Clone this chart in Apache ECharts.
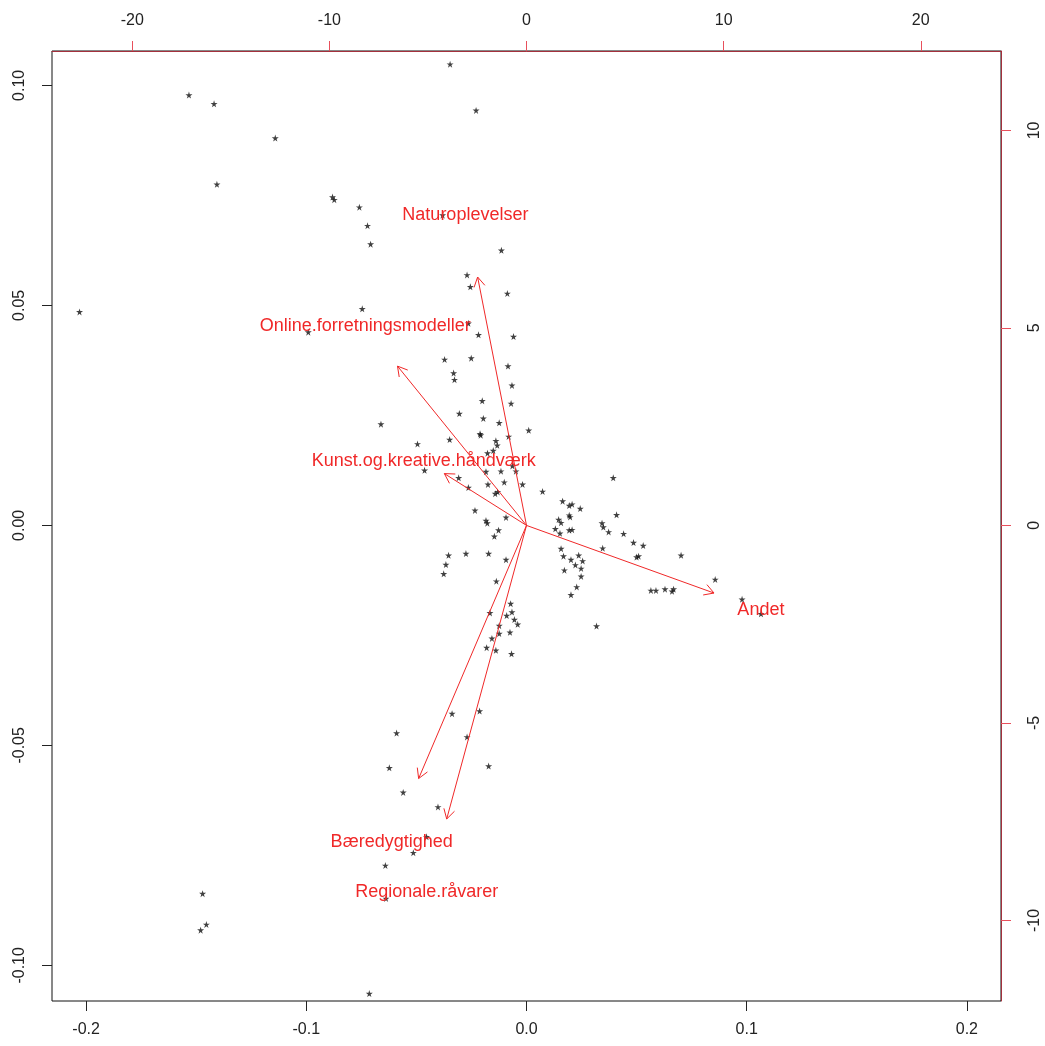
<!DOCTYPE html>
<html>
<head>
<meta charset="utf-8">
<script src="https://cdn.jsdelivr.net/npm/echarts@6/dist/echarts.min.js"></script>
<style>
  html, body { margin: 0; padding: 0; background: #fff; }
  #chart { width: 1045px; height: 1046px; }
</style>
</head>
<body>
<div id="chart"></div>
<script>
// observation scores (bottom / left axes)
var scoreX = [
  -0.1533, -0.1419, -0.1141, -0.1406, -0.0881, -0.0873, -0.0759, -0.0722, -0.0708, -0.0347,
  -0.0229, -0.0114, -0.0381, -0.2030, -0.0991, -0.0746, -0.0270, -0.0255, -0.0087, -0.0264,
  -0.0218, -0.0059, -0.0372, -0.0251, -0.0084, -0.0331, -0.0327, -0.0066, -0.0201, -0.0070,
  -0.0661, -0.0305, -0.0196, -0.0124, 0.0010, -0.0211, -0.0208, -0.0081, -0.0495, -0.0349,
  -0.0139, -0.0133, -0.0177, -0.0151, -0.0064, -0.0184, -0.0116, -0.0048, -0.0463, -0.0308,
  -0.0175, -0.0101, -0.0018, -0.0264, -0.0142, -0.0131, -0.0234, -0.0184, -0.0178, -0.0093,
  -0.0127, -0.0146, -0.0354, -0.0275, -0.0172, -0.0093, 0.0394, 0.0073, 0.0164, 0.0194,
  0.0207, 0.0244, 0.0194, 0.0198, 0.0409, 0.0146, 0.0157, 0.0131, 0.0152, 0.0194,
  0.0207, 0.0343, 0.0349, 0.0373, 0.0441, 0.0486, 0.0530, 0.0346, 0.0157, 0.0168,
  0.0237, 0.0202, 0.0255, 0.0222, 0.0248, 0.0172, 0.0248, 0.0500, 0.0509, 0.0702,
  0.0228, 0.0202, 0.0565, 0.0588, 0.0629, 0.0661, 0.0668, 0.0318, 0.0857, 0.0979,
  0.1065, -0.0366, -0.0376, -0.0137, -0.0072, -0.0066, -0.0166, -0.0090, -0.0055, -0.0040,
  -0.0124, -0.0124, -0.0075, -0.0157, -0.0181, -0.0139, -0.0068, -0.0338, -0.0213, -0.0590,
  -0.0270, -0.0623, -0.0172, -0.0560, -0.0402, -0.0454, -0.0514, -0.0641, -0.0638, -0.1471,
  -0.1454, -0.1480, -0.0714
];
var scoreY = [
  0.0978, 0.0958, 0.0880, 0.0775, 0.0746, 0.0740, 0.0723, 0.0681, 0.0639, 0.1048,
  0.0943, 0.0625, 0.0705, 0.0485, 0.0439, 0.0492, 0.0569, 0.0542, 0.0527, 0.0459,
  0.0433, 0.0429, 0.0377, 0.0380, 0.0362, 0.0346, 0.0331, 0.0318, 0.0283, 0.0277,
  0.0230, 0.0254, 0.0243, 0.0233, 0.0216, 0.0208, 0.0205, 0.0202, 0.0185, 0.0195,
  0.0192, 0.0182, 0.0164, 0.0170, 0.0135, 0.0122, 0.0123, 0.0123, 0.0125, 0.0108,
  0.0093, 0.0098, 0.0093, 0.0086, 0.0072, 0.0076, 0.0034, 0.0011, 0.0005, 0.0018,
  -0.0011, -0.0025, -0.0068, -0.0064, -0.0064, -0.0078, 0.0108, 0.0077, 0.0055, 0.0045,
  0.0048, 0.0038, 0.0023, 0.0019, 0.0024, 0.0013, 0.0006, -0.0008, -0.0018, -0.0011,
  -0.0010, 0.0005, -0.0004, -0.0015, -0.0019, -0.0039, -0.0046, -0.0052, -0.0053, -0.0070,
  -0.0068, -0.0078, -0.0081, -0.0090, -0.0098, -0.0102, -0.0116, -0.0072, -0.0070, -0.0068,
  -0.0140, -0.0158, -0.0148, -0.0148, -0.0145, -0.0150, -0.0145, -0.0229, -0.0123, -0.0168,
  -0.0201, -0.0089, -0.0110, -0.0127, -0.0178, -0.0197, -0.0199, -0.0205, -0.0214, -0.0225,
  -0.0228, -0.0246, -0.0243, -0.0257, -0.0278, -0.0284, -0.0292, -0.0428, -0.0422, -0.0472,
  -0.0481, -0.0551, -0.0547, -0.0607, -0.0640, -0.0708, -0.0744, -0.0773, -0.0848, -0.0837,
  -0.0907, -0.0920, -0.1064
];

// variable loadings (top / right axes)
var loadingNames = [
  "Naturoplevelser", "Online.forretningsmodeller", "Kunst.og.kreative.håndværk",
  "Andet", "Bæredygtighed", "Regionale.råvarer"
];
var loadingX = [-3.10, -8.18, -5.21, 11.89, -6.84, -5.06];
var loadingY = [7.86, 5.04, 1.64, -2.14, -8.01, -9.29];

// tick labels
var bottomTicks = [-0.2, -0.1, 0, 0.1, 0.2];
var leftTicks = [-0.1, -0.05, 0, 0.05, 0.1];
var topTicks = [-20, -10, 0, 10, 20];
var rightTicks = [-10, -5, 0, 5, 10];

(function () {
    var myChart = echarts.init(document.getElementById("chart"));
    var red = "#f02828";
    var font = '"Liberation Sans", Arial, sans-serif';

    var points = scoreX.map(function (x, i) { return [x, scoreY[i]]; });
    var loadings = loadingX.map(function (x, i) { return [x, loadingY[i]]; });

    var star = "path://M50,0 L61,35 L98,35 L68,57 L79,91 L50,70 L21,91 L32,57 L2,35 L39,35 Z";

    var labelStyle = { color: "#222", fontSize: 16, fontFamily: font };

    var option = {
        animation: false,
        backgroundColor: "#fff",
        grid: {
            left: 52, top: 51, width: 949, height: 950,
            show: true, borderColor: "#111", borderWidth: 1,
            backgroundColor: "transparent"
        },
        xAxis: [
            {
                type: "value", position: "bottom",
                min: -0.2155, max: 0.2155,
                axisLine: { show: false, onZero: false },
                splitLine: { show: false },
                axisTick: { show: true, length: 10, customValues: bottomTicks, lineStyle: { color: "#222" } },
                axisLabel: Object.assign({
                    customValues: bottomTicks, margin: 21,
                    formatter: function (v) { return v.toFixed(1); }
                }, labelStyle)
            },
            {
                type: "value", position: "top",
                min: -24.07, max: 24.07,
                axisLine: { show: true, onZero: false, lineStyle: { color: "#a3303c" } },
                splitLine: { show: false },
                axisTick: { show: true, length: 10, customValues: topTicks, lineStyle: { color: "#e8505c" } },
                axisLabel: Object.assign({
                    customValues: topTicks, margin: 22,
                    formatter: function (v) { return String(v); }
                }, labelStyle)
            }
        ],
        yAxis: [
            {
                type: "value", position: "left",
                min: -0.1081, max: 0.1078,
                axisLine: { show: false, onZero: false },
                splitLine: { show: false },
                axisTick: { show: true, length: 10, customValues: leftTicks, lineStyle: { color: "#222" } },
                axisLabel: Object.assign({
                    customValues: leftTicks, margin: 24, rotate: 90,
                    formatter: function (v) { return v.toFixed(2); }
                }, labelStyle)
            },
            {
                type: "value", position: "right",
                min: -12.04, max: 12.01,
                axisLine: { show: true, onZero: false, lineStyle: { color: "#a3303c" } },
                splitLine: { show: false },
                axisTick: { show: true, length: 10, customValues: rightTicks, lineStyle: { color: "#e8505c" } },
                axisLabel: Object.assign({
                    customValues: rightTicks, margin: 26, rotate: 90,
                    formatter: function (v) { return String(v); }
                }, labelStyle)
            }
        ],
        series: [
            {
                name: "scores",
                type: "scatter",
                xAxisIndex: 0, yAxisIndex: 0,
                symbol: star,
                symbolSize: 7,
                itemStyle: { color: "#111" },
                data: points,
                z: 2
            },
            {
                name: "loadings",
                type: "custom",
                xAxisIndex: 1, yAxisIndex: 1,
                clip: false,
                z: 3,
                data: loadings,
                renderItem: function (params, api) {
                    var i = params.dataIndex;
                    var o = api.coord([0, 0]);
                    var t = api.coord([api.value(0) * 0.8, api.value(1) * 0.8]);
                    var lp = api.coord([api.value(0), api.value(1)]);
                    var ang = Math.atan2(t[1] - o[1], t[0] - o[0]);
                    var h = 11, a = Math.PI / 6;
                    var p1 = [t[0] - h * Math.cos(ang - a), t[1] - h * Math.sin(ang - a)];
                    var p2 = [t[0] - h * Math.cos(ang + a), t[1] - h * Math.sin(ang + a)];
                    return {
                        type: "group",
                        children: [
                            { type: "line", shape: { x1: o[0], y1: o[1], x2: t[0], y2: t[1] },
                              style: { stroke: red, lineWidth: 1 } },
                            { type: "polyline", shape: { points: [p1, t, p2] },
                              style: { stroke: red, fill: null, lineWidth: 1 } },
                            { type: "text", x: lp[0], y: lp[1],
                              style: { text: loadingNames[i], fill: red, font: "18px " + font,
                                       align: "center", verticalAlign: "middle" } }
                        ]
                    };
                }
            }
        ]
    };
    myChart.setOption(option);
})();
</script>
</body>
</html>
